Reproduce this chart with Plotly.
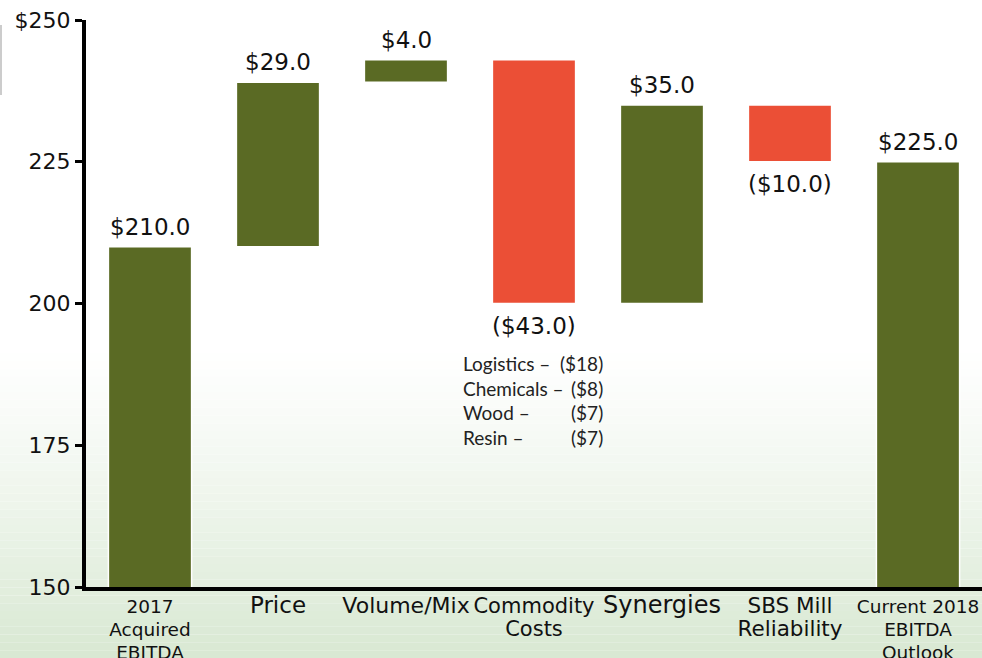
import plotly.graph_objects as go

categories = ["2017 Acquired EBITDA", "Price", "Volume/Mix", "Commodity Costs",
              "Synergies", "SBS Mill Reliability", "Current 2018 EBITDA Outlook"]
tick_labels = ["2017<br>Acquired<br>EBITDA", "Price", "Volume/Mix", "Commodity<br>Costs",
               "Synergies", "SBS Mill<br>Reliability", "Current 2018<br>EBITDA<br>Outlook"]
tick_sizes = [18.5, 23, 22, 21, 24, 21.5, 18.5]
values = [210.0, 29.0, 4.0, -43.0, 35.0, -10.0, 225.0]
measures = ["absolute", "relative", "relative", "relative", "relative", "relative", "total"]
value_labels = ["$210.0", "$29.0", "$4.0", "($43.0)", "$35.0", "($10.0)", "$225.0"]
y_ticks = [150, 175, 200, 225, 250]
y_tick_labels = ["150", "175", "200", "225", "$250"]
breakdown_items = ["Logistics –", "Chemicals –", "Wood –", "Resin –"]
breakdown_values = ["($18)", "($8)", "($7)", "($7)"]

GREEN = "#5a6a24"
RED = "#eb4f36"

fig = go.Figure()
fig.add_trace(go.Waterfall(
    x=categories, y=values, measure=measures,
    base=0,
    increasing=dict(marker=dict(color=GREEN, line=dict(color="white", width=1.5))),
    decreasing=dict(marker=dict(color=RED, line=dict(color="white", width=1.5))),
    totals=dict(marker=dict(color=GREEN, line=dict(color="white", width=1.5))),
    connector=dict(visible=False),
    width=0.65,
    showlegend=False,
    hoverinfo="skip",
))

# value labels at bar ends
running = 0.0
for cat, m, v, lab in zip(categories, measures, values, value_labels):
    if m == "absolute":
        start, end = 0.0, v
        running = v
    elif m == "total":
        start, end = 0.0, running
    else:
        start, end = running, running + v
        running = running + v
    if end >= start:
        fig.add_annotation(x=cat, y=end, text=lab, showarrow=False, yanchor="bottom",
                           yshift=5, font=dict(family="DejaVu Sans", size=23, color="#111"))
    else:
        fig.add_annotation(x=cat, y=end, text=lab, showarrow=False, yanchor="top",
                           yshift=-7, font=dict(family="DejaVu Sans", size=23, color="#111"))

# commodity breakdown
fig.add_annotation(x=2.43, y=191.8, xref="x", yref="y", text="<br>".join(breakdown_items),
                   showarrow=False, xanchor="left", yanchor="top", align="left",
                   font=dict(family="Lato", size=19, color="#222"))
fig.add_annotation(x=3.555, y=191.8, xref="x", yref="y", text="<br>".join(breakdown_values),
                   showarrow=False, xanchor="right", yanchor="top", align="right",
                   font=dict(family="Lato", size=19, color="#222"))

# background gradient (decorative)
top, bot = 20.0, 587.0
def py2paper(py):
    return (bot - py) / (bot - top)
n = 40
y0px, y1px = 345.0, 658.0
c0 = (255, 255, 255)
c1 = (216, 232, 210)
shapes = []
for i in range(n):
    a = y0px + (y1px - y0px) * i / n
    b = y0px + (y1px - y0px) * (i + 1) / n
    t = ((i + 0.5) / n) ** 1.2
    col = tuple(int(round(c0[k] + (c1[k] - c0[k]) * t)) for k in range(3))
    shapes.append(dict(type="rect", xref="paper", yref="paper", x0=-0.2, x1=1.05,
                       y0=py2paper(b), y1=py2paper(a), layer="below",
                       fillcolor="rgb(%d,%d,%d)" % col, line=dict(width=0)))
shapes.append(dict(type="line", xref="paper", yref="paper",
                   x0=-85/896, x1=-85/896, y0=py2paper(95), y1=py2paper(25),
                   line=dict(color="#bbbbbb", width=1.5)))

ticktext = ['<span style="font-size:%spx">%s</span>' % (s, t) for s, t in zip(tick_sizes, tick_labels)]

fig.update_layout(
    width=982, height=658,
    margin=dict(l=86, r=0, t=20, b=71, autoexpand=False),
    paper_bgcolor="white",
    plot_bgcolor="rgba(0,0,0,0)",
    shapes=shapes,
    font=dict(family="DejaVu Sans", color="#111"),
    xaxis=dict(
        type="category", tickmode="array", tickvals=categories, ticktext=ticktext,
        showline=True, linecolor="black", linewidth=4, showgrid=False, ticks="",
        tickfont=dict(family="DejaVu Sans", size=18, color="#111"),
        range=[-0.5, 6.5], fixedrange=True, automargin=False,
    ),
    yaxis=dict(
        range=[150, 250], tickmode="array", tickvals=y_ticks, ticktext=y_tick_labels,
        showline=True, linecolor="black", linewidth=4, showgrid=False, zeroline=False,
        ticks="outside", ticklen=7, tickwidth=3, tickcolor="black", automargin=False,
        tickfont=dict(family="DejaVu Sans", size=22, color="#111"),
    ),
)

fig.write_html("out.html", config={"displayModeBar": False},
               post_script="document.body.style.margin='0';document.body.style.overflow='hidden';")
